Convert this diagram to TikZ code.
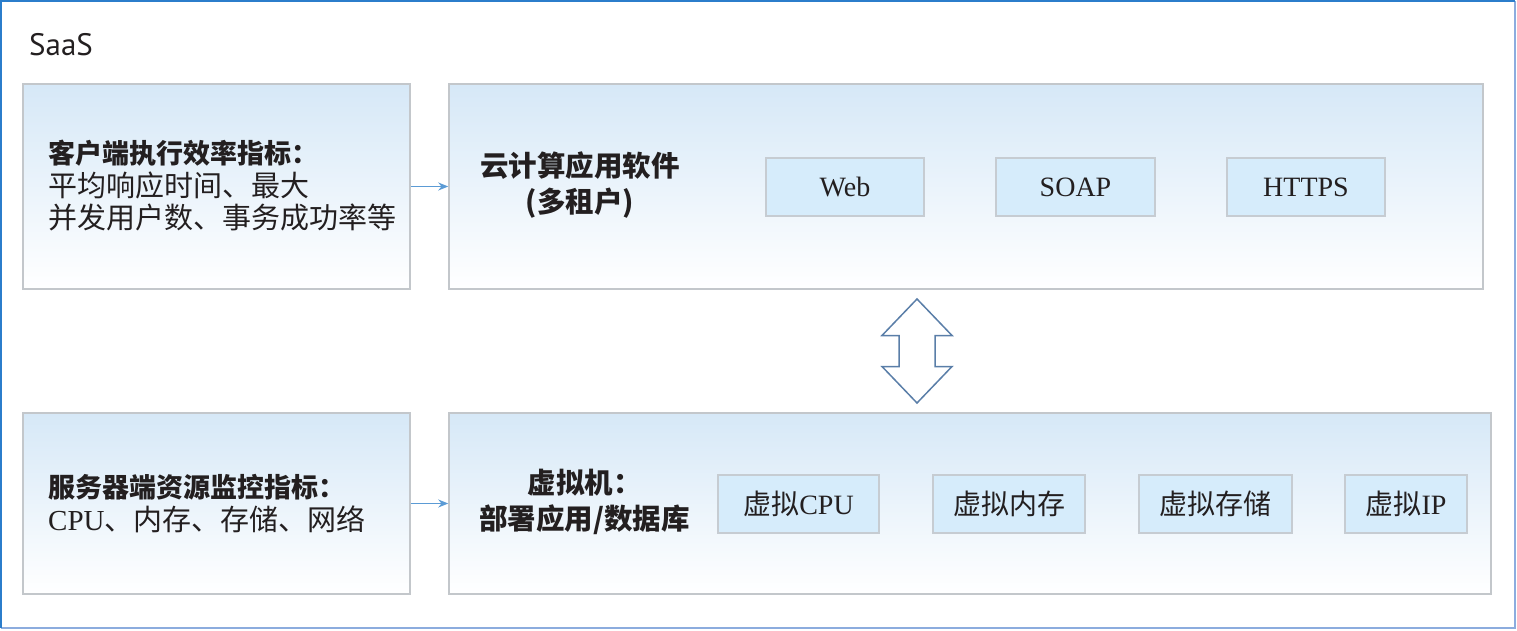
\documentclass[tikz,border=0pt]{standalone}
\usepackage{fontspec}
\setmainfont{Liberation Serif}
\newfontfamily\cjk{Noto Sans CJK SC}
\newfontfamily\saasfont{PT Sans}
\usetikzlibrary{calc, arrows.meta}

\definecolor{framea}{RGB}{43,125,203}
\definecolor{frameb}{RGB}{140,172,222}
\definecolor{panelline}{RGB}{195,199,203}
\definecolor{paneltop}{RGB}{214,232,247}
\definecolor{chipfill}{RGB}{214,236,251}
\definecolor{chipline}{RGB}{198,204,210}
\definecolor{linkblue}{RGB}{91,155,213}
\definecolor{swapline}{RGB}{90,126,168}
\definecolor{ink}{RGB}{35,31,32}

\begin{document}
\begin{tikzpicture}[x=1pt, y=1pt,
	panel/.style={draw=panelline, line width=1.5pt, top color=paneltop, bottom color=white, inner sep=0pt},
	chip/.style={draw=chipline, line width=1.5pt, fill=chipfill, inner sep=0pt, minimum height=58pt, text=ink, font=\fontsize{28}{28}\selectfont},
	headtxt/.style={inner sep=0pt, text=ink, font=\cjk\fontsize{28.5}{36}\selectfont\bfseries},
	listtxt/.style={inner sep=0pt, text=ink, anchor=west, align=left, font=\cjk\fontsize{29}{32.5}\selectfont},
	link/.style={->, >={Stealth[length=10pt, width=8pt]}, linkblue, line width=1.5pt}]
	\useasboundingbox (0,0) rectangle (1517,630);
	
	% Draw outer frame
	\draw[frameb, line width=2pt] (1,2) -- (1515,2) -- (1515,629);
	\draw[framea, line width=2pt] (1,2) -- (1,629) -- (1515,629);
	\node[anchor=west, inner sep=0pt, text=ink, font=\saasfont\fontsize{31}{31}\selectfont] (saas) at (29,585) {SaaS};
	
	% Draw panels
	\node[panel, minimum width=387pt, minimum height=205pt] (client) at (216.5,443.5) {};
	\node[panel, minimum width=1034pt, minimum height=205pt] (app) at (966,443.5) {};
	\node[panel, minimum width=387pt, minimum height=181pt] (server) at (216.5,126.5) {};
	\node[panel, minimum width=1042pt, minimum height=181pt] (vm) at (970,126.5) {};
	
	% Panel texts
	\node[listtxt] (clienttxt) at (48,444) {{\fontsize{27}{32.5}\selectfont\bfseries 客户端执行效率指标：}\\平均响应时间、最大\\并发用户数、事务成功率等};
	\node[listtxt] (servertxt) at (48,126.5) {{\fontsize{27}{32.5}\selectfont\bfseries 服务器端资源监控指标：}\\{\rmfamily CPU}、内存、存储、网络};
	\node[headtxt, align=center] (apptxt) at (580,445) {云计算应用软件\\(多租户)};
	\node[headtxt, align=center] (vmtxt) at (584.5,128) {虚拟机：\\部署应用/数据库};
	
	% Protocol chips
	\node[chip, minimum width=158pt] (web) at (845,443) {Web};
	\node[chip, minimum width=159pt] (soap) at (1075.5,443) {SOAP};
	\node[chip, minimum width=158pt] (https) at (1306,443) {HTTPS};
	
	% Virtual resource chips
	\node[chip, minimum width=161pt] (vcpu) at (798.5,126) {{\cjk 虚拟}CPU};
	\node[chip, minimum width=152pt] (vmem) at (1009,126) {\cjk 虚拟内存};
	\node[chip, minimum width=153pt] (vdisk) at (1215.5,126) {\cjk 虚拟存储};
	\node[chip, minimum width=122pt] (vip) at (1406,126) {{\cjk 虚拟}IP};
	
	% Links
	\draw[link] (client.east) -- (app.west);
	\draw[link] (server.east) -- (vm.west);
	
	% Two-way arrow between the layers
	\coordinate (swap) at (917,279);
	\draw[swapline, line width=1.5pt, fill=white, shift={(swap)}] (0,52) -- (35,15.5) -- (18,15.5) -- (18,-15.5) -- (35,-15.5) -- (0,-52) -- (-35,-15.5) -- (-18,-15.5) -- (-18,15.5) -- (-35,15.5) -- cycle;
\end{tikzpicture}
\end{document}
